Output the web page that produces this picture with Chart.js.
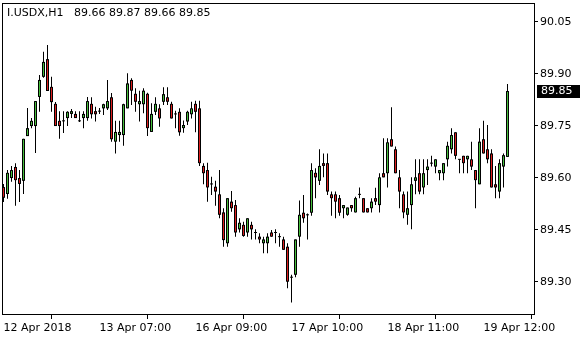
<!DOCTYPE html>
<html><head><meta charset="utf-8">
<script src="https://cdn.jsdelivr.net/npm/chart.js@4.4.1/dist/chart.umd.min.js"></script>
<style>
html,body{margin:0;padding:0;background:#fff;}
#wrap{position:relative;width:580px;height:340px;}
#hdr{position:absolute;left:7px;top:6px;font:11px "DejaVu Sans";line-height:13px;color:#000;white-space:pre;}
</style></head><body>
<div id="wrap"><canvas id="c" width="580" height="340"></canvas><div id="hdr"></div></div>
<script>
const symbol = 'I.USDX,H1';
const xTickIndex = [0, 24, 48, 72, 96, 120];
const xTickLabels = ['12 Apr 2018', '13 Apr 07:00', '16 Apr 09:00', '17 Apr 10:00', '18 Apr 11:00', '19 Apr 12:00'];
const yTicks = [89.30, 89.45, 89.60, 89.75, 89.90, 90.05];

const open = [89.573,89.553,89.599,89.631,89.599,89.591,89.720,89.749,89.749,89.833,
89.891,89.942,89.862,89.813,89.764,89.764,89.772,89.784,89.784,89.764,
89.772,89.772,89.813,89.792,89.792,89.800,89.800,89.832,89.704,89.723,
89.723,89.800,89.882,89.842,89.812,89.812,89.842,89.732,89.790,89.800,
89.819,89.832,89.813,89.784,89.790,89.743,89.762,89.783,89.813,89.800,
89.634,89.622,89.582,89.574,89.552,89.500,89.411,89.531,89.521,89.451,
89.464,89.442,89.464,89.442,89.430,89.411,89.411,89.442,89.442,89.430,
89.422,89.401,89.313,89.320,89.430,89.499,89.493,89.499,89.614,89.591,
89.642,89.642,89.552,89.552,89.541,89.512,89.493,89.521,89.500,89.552,
89.541,89.512,89.512,89.541,89.521,89.613,89.613,89.711,89.682,89.601,
89.552,89.493,89.521,89.591,89.613,89.572,89.622,89.642,89.632,89.613,
89.613,89.653,89.682,89.731,89.653,89.663,89.653,89.653,89.622,89.581,
89.711,89.682,89.670,89.581,89.560,89.632,89.66];
const high = [89.582,89.622,89.634,89.642,89.622,89.712,89.801,89.772,89.821,89.896,
89.963,89.983,89.891,89.818,89.792,89.792,89.792,89.798,89.792,89.792,
89.792,89.833,89.832,89.805,89.801,89.813,89.882,89.844,89.764,89.764,
89.813,89.901,89.887,89.858,89.851,89.858,89.845,89.815,89.832,89.812,
89.861,89.861,89.819,89.793,89.800,89.765,89.793,89.819,89.822,89.822,
89.642,89.643,89.603,89.591,89.622,89.512,89.541,89.562,89.536,89.483,
89.473,89.483,89.473,89.451,89.440,89.430,89.440,89.449,89.451,89.440,
89.430,89.411,89.320,89.422,89.534,89.550,89.497,89.642,89.627,89.682,
89.670,89.670,89.560,89.560,89.550,89.521,89.514,89.521,89.545,89.572,
89.541,89.512,89.541,89.571,89.613,89.714,89.714,89.803,89.690,89.622,
89.560,89.560,89.601,89.653,89.653,89.653,89.653,89.663,89.653,89.622,
89.642,89.704,89.743,89.731,89.653,89.663,89.663,89.704,89.622,89.743,
89.764,89.752,89.682,89.634,89.653,89.670,89.87];
const low = [89.530,89.539,89.588,89.519,89.530,89.553,89.720,89.743,89.671,89.790,
89.888,89.850,89.790,89.749,89.712,89.729,89.749,89.772,89.772,89.761,
89.743,89.764,89.771,89.762,89.784,89.781,89.795,89.704,89.670,89.704,
89.692,89.800,89.810,89.790,89.762,89.786,89.720,89.732,89.781,89.747,
89.810,89.810,89.771,89.743,89.721,89.730,89.752,89.771,89.731,89.634,
89.581,89.531,89.550,89.519,89.483,89.401,89.401,89.502,89.430,89.442,
89.430,89.430,89.422,89.422,89.411,89.382,89.382,89.430,89.411,89.401,
89.392,89.281,89.240,89.313,89.401,89.470,89.422,89.490,89.541,89.579,
89.601,89.550,89.490,89.483,89.490,89.483,89.490,89.502,89.500,89.541,
89.500,89.500,89.500,89.521,89.500,89.601,89.572,89.690,89.613,89.512,
89.483,89.464,89.451,89.552,89.552,89.552,89.579,89.632,89.613,89.593,
89.593,89.632,89.670,89.653,89.613,89.613,89.613,89.622,89.512,89.581,
89.670,89.642,89.572,89.541,89.541,89.572,89.66];
const close = [89.542,89.614,89.622,89.593,89.582,89.712,89.743,89.764,89.821,89.882,
89.934,89.850,89.818,89.749,89.749,89.764,89.790,89.792,89.772,89.764,
89.784,89.821,89.783,89.783,89.792,89.812,89.821,89.711,89.732,89.732,
89.812,89.872,89.851,89.819,89.821,89.851,89.743,89.784,89.813,89.771,
89.841,89.819,89.771,89.784,89.731,89.752,89.790,89.800,89.790,89.642,
89.613,89.572,89.582,89.560,89.493,89.420,89.541,89.512,89.442,89.470,
89.432,89.483,89.451,89.442,89.422,89.422,89.430,89.430,89.442,89.430,
89.392,89.300,89.313,89.422,89.493,89.483,89.493,89.622,89.601,89.634,
89.634,89.560,89.541,89.531,89.499,89.521,89.514,89.512,89.541,89.552,
89.500,89.500,89.531,89.531,89.601,89.601,89.702,89.690,89.613,89.560,
89.500,89.512,89.581,89.601,89.560,89.613,89.632,89.642,89.653,89.622,
89.642,89.692,89.723,89.663,89.653,89.642,89.663,89.632,89.593,89.704,
89.670,89.653,89.572,89.572,89.642,89.665,89.85];

const UP = '#46be3c', DOWN = '#dc1e1e', INK = '#000000';
const Y_MIN = 89.204, Y_MAX = 90.1039;
const n = close.length;
const idx = Array.from({length: n}, (_, i) => i);
// one device pixel in price units (plot height 312px)
const PX = (Y_MAX - Y_MIN) / 312;
const wickData = idx.map(i => ({x: i, y: [low[i], high[i]]}));
const outlineData = idx.map(i => {
  const lo = Math.min(open[i], close[i]), hi = Math.max(open[i], close[i]);
  return {x: i, y: hi - lo < PX ? [lo - PX / 2, lo + PX / 2] : [lo, hi]};
});
const fillData = idx.map(i => {
  const lo = Math.min(open[i], close[i]), hi = Math.max(open[i], close[i]);
  return {x: i, y: hi - lo > 2.5 * PX ? [lo + PX, hi - PX] : null};
});
const fillColors = idx.map(i => close[i] >= open[i] ? UP : DOWN);
const last = n - 1;
document.getElementById('hdr').textContent =
  symbol + '   ' + [open[last], high[last], low[last], close[last]].map(v => v.toFixed(2)).join(' ');

const framePlugin = {
  id: 'frame',
  afterDraw(chart) {
    const {ctx, chartArea: a} = chart;
    ctx.save();
    ctx.strokeStyle = '#000'; ctx.lineWidth = 1;
    ctx.strokeRect(a.left + 0.5, a.top + 0.5, a.right - a.left - 1, a.bottom - a.top - 1);
    const ys = chart.scales.y;
    const py = Math.round(ys.getPixelForValue(close[last]));
    ctx.fillStyle = '#000';
    ctx.fillRect(a.right + 2, py - 6, chart.width - a.right - 2, 13);
    ctx.fillStyle = '#fff';
    ctx.font = '11px "DejaVu Sans"';
    ctx.textBaseline = 'middle';
    ctx.textAlign = 'left';
    ctx.fillText(close[last].toFixed(2), a.right + 6, py + 0.5);
    ctx.restore();
  }
};

const common = {borderWidth: 0, inflateAmount: 0, grouped: false};
new Chart(document.getElementById('c'), {
  type: 'bar',
  data: {
    datasets: [
      Object.assign({data: fillData, backgroundColor: fillColors, barThickness: 1, maxBarThickness: 1, order: 0}, common),
      Object.assign({data: outlineData, backgroundColor: INK, barThickness: 3, maxBarThickness: 3, order: 1}, common),
      Object.assign({data: wickData, backgroundColor: INK, barThickness: 1, maxBarThickness: 1, order: 2}, common)
    ]
  },
  options: {
    responsive: false,
    devicePixelRatio: 1,
    animation: false,
    layout: {padding: {left: 2, top: 3, right: 0, bottom: 0}},
    plugins: {legend: {display: false}, tooltip: {enabled: false}},
    scales: {
      x: {
        type: 'linear', min: -0.375, max: 132.875, offset: false,
        afterBuildTicks: s => { s.ticks = xTickIndex.map(v => ({value: v})); },
        afterFit: s => { s.height = 25; s.paddingLeft = 0; s.paddingRight = 0; },
        ticks: {
          autoSkip: false, maxRotation: 0, align: 'start', padding: 3, color: '#000',
          font: {family: 'DejaVu Sans', size: 11},
          callback: v => { const k = xTickIndex.indexOf(v); return k >= 0 ? xTickLabels[k] : ''; }
        },
        grid: {drawOnChartArea: false, drawTicks: true, tickLength: 4, color: '#000'},
        border: {display: false}
      },
      y: {
        type: 'linear', position: 'right', min: Y_MIN, max: Y_MAX,
        afterBuildTicks: s => { s.ticks = yTicks.map(v => ({value: v})); },
        afterFit: s => { s.width = 45; s.paddingTop = 0; s.paddingBottom = 0; },
        ticks: {
          color: '#000', padding: 2, font: {family: 'DejaVu Sans', size: 11},
          callback: v => Number(v).toFixed(2)
        },
        grid: {drawOnChartArea: false, drawTicks: true, tickLength: 3, color: '#000'},
        border: {display: false}
      }
    }
  },
  plugins: [framePlugin]
});
</script>
</body></html>
